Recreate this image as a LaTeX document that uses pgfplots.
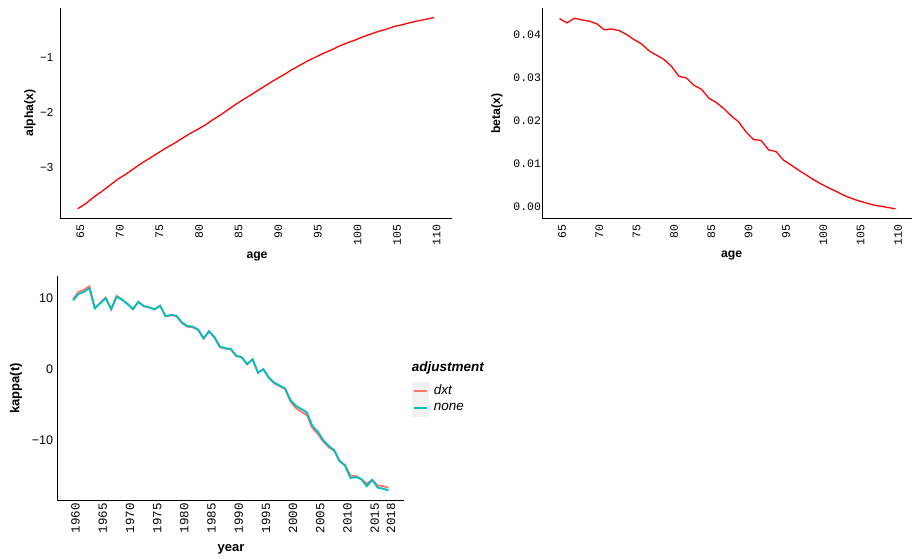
\documentclass[border=0pt]{standalone}
\usepackage{fontspec}
\setmainfont{Liberation Sans}
\newfontfamily\monofont{Liberation Mono}
\usepackage{pgfplots}
\pgfplotsset{compat=1.18}
\definecolor{salmonA}{HTML}{F8766D}
\definecolor{tealB}{HTML}{00BFC4}
\definecolor{keybg}{HTML}{F2F2F2}
\pgfplotsset{
  gg/.style={scale only axis, axis lines=left, axis line style={-, line width=0.9pt, black},
    major tick length=0pt, tick style={draw=none}, clip=false, scaled ticks=false,
  },
}
\begin{document}
\begin{tikzpicture}
\path[use as bounding box] (0pt,0pt) rectangle (913pt,-558pt);
% alpha
\begin{axis}[gg, at={(60pt,-8pt)}, anchor=north west, width=392pt, height=210pt,
  xmin=62.75, xmax=112.25, ymin=-3.92, ymax=-0.107,
  xtick={65,70,75,80,85,90,95,100,105,110},
  xticklabels={65,70,75,80,85,90,95,100,105,110},
  ytick={-3,-2,-1}, yticklabels={−3,−2,−1},
  xticklabel style={font=\monofont\fontsize{11.5}{12}\selectfont, inner sep=0pt, xshift=2.5pt, yshift=-6.5pt, rotate=90, anchor=east},
  yticklabel style={font=\fontsize{11.5}{12}\selectfont, inner sep=0pt, xshift=-6.5pt, anchor=east},
  every axis x label/.style={at={(axis description cs:0.5026,-0.181)}, anchor=center, font=\bfseries\fontsize{12.2}{13}\selectfont},
  every axis y label/.style={at={(axis description cs:-0.0765,0.5)}, anchor=center, rotate=90, font=\bfseries\fontsize{12.2}{13}\selectfont},
  xlabel={age}, ylabel={alpha(x)}]
\addplot[red, line width=1.3pt] coordinates {
(65,-3.75)(66,-3.66)(67,-3.54)(68,-3.44)(69,-3.33)(70,-3.22)(71,-3.13)(72,-3.03)(73,-2.93)(74,-2.84)
(75,-2.75)(76,-2.66)(77,-2.58)(78,-2.49)(79,-2.40)(80,-2.32)(81,-2.24)(82,-2.14)(83,-2.05)(84,-1.95)
(85,-1.85)(86,-1.76)(87,-1.67)(88,-1.58)(89,-1.49)(90,-1.40)(91,-1.32)(92,-1.23)(93,-1.15)(94,-1.07)
(95,-1.00)(96,-0.93)(97,-0.87)(98,-0.80)(99,-0.74)(100,-0.69)(101,-0.63)(102,-0.58)(103,-0.53)(104,-0.49)
(105,-0.44)(106,-0.41)(107,-0.37)(108,-0.34)(109,-0.31)(110,-0.28)};
\end{axis}
% beta
\begin{axis}[gg, at={(542.7pt,-8.3pt)}, anchor=north west, width=369.6pt, height=210.4pt,
  xmin=62.75, xmax=112.25, ymin=-0.0028, ymax=0.0461,
  xtick={65,70,75,80,85,90,95,100,105,110},
  xticklabels={65,70,75,80,85,90,95,100,105,110},
  ytick={0,0.01,0.02,0.03,0.04}, yticklabels={0.00,0.01,0.02,0.03,0.04},
  xticklabel style={font=\monofont\fontsize{11.5}{12}\selectfont, inner sep=0pt, xshift=2.5pt, yshift=-5.5pt, rotate=90, anchor=east},
  yticklabel style={font=\monofont\fontsize{11.5}{12}\selectfont, inner sep=0pt, xshift=-1.5pt, anchor=east},
  every axis x label/.style={at={(axis description cs:0.511,-0.177)}, anchor=center, font=\bfseries\fontsize{12.2}{13}\selectfont},
  every axis y label/.style={at={(axis description cs:-0.1236,0.5)}, anchor=center, rotate=90, font=\bfseries\fontsize{12.2}{13}\selectfont},
  xlabel={age}, ylabel={beta(x)}]
\addplot[red, line width=1.3pt] coordinates {
(65,0.0437)(66,0.0427)(67,0.0438)(68,0.0434)(69,0.0431)(70,0.0425)(71,0.0411)(72,0.0413)(73,0.0409)(74,0.0400)
(75,0.0388)(76,0.0378)(77,0.0362)(78,0.0352)(79,0.0342)(80,0.0326)(81,0.0303)(82,0.0299)(83,0.0282)(84,0.0273)
(85,0.0252)(86,0.0242)(87,0.0228)(88,0.0211)(89,0.0197)(90,0.0173)(91,0.0156)(92,0.0154)(93,0.0132)(94,0.0128)
(95,0.0108)(96,0.0097)(97,0.0085)(98,0.0074)(99,0.0063)(100,0.0053)(101,0.0044)(102,0.0036)(103,0.0027)(104,0.0020)
(105,0.0014)(106,0.0009)(107,0.0004)(108,0.0001)(109,-0.0002)(110,-0.0005)};
\end{axis}
% kappa
\begin{axis}[gg, at={(57.3pt,-276pt)}, anchor=north west, width=347pt, height=224.7pt,
  xmin=1957.1, xmax=2020.9, ymin=-18.54, ymax=13.14,
  xtick={1960,1965,1970,1975,1980,1985,1990,1995,2000,2005,2010,2015,2018},
  xticklabels={1960,1965,1970,1975,1980,1985,1990,1995,2000,2005,2010,2015,2018},
  ytick={-10,0,10}, yticklabels={−10,0,10},
  xticklabel style={font=\monofont\fontsize{12.5}{13}\selectfont, inner sep=0pt, xshift=2.5pt, yshift=-2.5pt, rotate=90, anchor=east},
  yticklabel style={font=\fontsize{12.5}{13}\selectfont, inner sep=0pt, xshift=-4pt, anchor=east},
  every axis x label/.style={at={(axis description cs:0.5006,-0.216)}, anchor=center, font=\bfseries\fontsize{13}{14}\selectfont},
  every axis y label/.style={at={(axis description cs:-0.119,0.5)}, anchor=center, rotate=90, font=\bfseries\fontsize{13}{14}\selectfont},
  xlabel={year}, ylabel={kappa(t)},
  legend style={at={(axis description cs:1.0213,0.5296)}, anchor=north west, draw=none, fill=none,
    inner sep=0pt, row sep=0pt, column sep=5.5pt, font=\itshape\fontsize{13.5}{14}\selectfont,
    nodes={inner sep=0pt}, cells={anchor=west}}]
\addplot[salmonA, line width=1.8pt, forget plot] coordinates {
(1960,9.9)(1961,10.9)(1962,11.2)(1963,11.7)(1964,8.6)(1965,9.35)(1966,10.1)(1967,8.45)(1968,10.35)(1969,9.85)
(1970,9.2)(1971,8.45)(1972,9.5)(1973,8.9)(1974,8.7)(1975,8.45)(1976,8.95)(1977,7.45)(1978,7.6)(1979,7.5)
(1980,6.5)(1981,6.0)(1982,5.9)(1983,5.55)(1984,4.3)(1985,5.35)(1986,4.45)(1987,3.1)(1988,2.9)(1989,2.8)
(1990,1.85)(1991,1.7)(1992,0.7)(1993,1.4)(1994,-0.5)(1995,0.0)(1996,-1.25)(1997,-2.0)(1998,-2.4)(1999,-2.8)
(2000,-4.6)(2001,-5.5)(2002,-6.0)(2003,-6.5)(2004,-8.3)(2005,-9.1)(2006,-10.2)(2007,-11.0)(2008,-11.5)(2009,-13.0)
(2010,-13.5)(2011,-15.0)(2012,-15.05)(2013,-15.5)(2014,-16.15)(2015,-15.6)(2016,-16.4)(2017,-16.5)(2018,-16.7)};
\addplot[tealB, line width=1.8pt, forget plot] coordinates {
(1960,9.7)(1961,10.6)(1962,10.9)(1963,11.4)(1964,8.6)(1965,9.3)(1966,10.0)(1967,8.45)(1968,10.2)(1969,9.8)
(1970,9.2)(1971,8.45)(1972,9.5)(1973,8.9)(1974,8.7)(1975,8.45)(1976,8.95)(1977,7.5)(1978,7.65)(1979,7.55)
(1980,6.6)(1981,6.1)(1982,6.0)(1983,5.6)(1984,4.35)(1985,5.35)(1986,4.5)(1987,3.2)(1988,2.95)(1989,2.86)
(1990,1.9)(1991,1.7)(1992,0.7)(1993,1.4)(1994,-0.5)(1995,0.0)(1996,-1.2)(1997,-1.9)(1998,-2.3)(1999,-2.7)
(2000,-4.4)(2001,-5.2)(2002,-5.6)(2003,-6.1)(2004,-8.0)(2005,-8.8)(2006,-10.0)(2007,-10.8)(2008,-11.4)(2009,-12.9)
(2010,-13.6)(2011,-15.35)(2012,-15.2)(2013,-15.5)(2014,-16.5)(2015,-15.6)(2016,-16.7)(2017,-16.85)(2018,-17.1)};
\addlegendimage{legend image code/.code={\fill[keybg] (0pt,-8.5pt) rectangle (16pt,8.5pt); \draw[salmonA, line width=2pt] (1.5pt,0pt) -- (14.5pt,0pt);}}
\addlegendentry{dxt}
\addlegendimage{legend image code/.code={\fill[keybg] (0pt,-8.5pt) rectangle (16pt,8.5pt); \draw[tealB, line width=2pt] (1.5pt,0pt) -- (14.5pt,0pt);}}
\addlegendentry{none}
\node[anchor=base west, font=\bfseries\itshape\fontsize{13.5}{14}\selectfont, inner sep=0pt] at (axis description cs:1.0213,0.577) {adjustment};
\end{axis}
\end{tikzpicture}
\end{document}
